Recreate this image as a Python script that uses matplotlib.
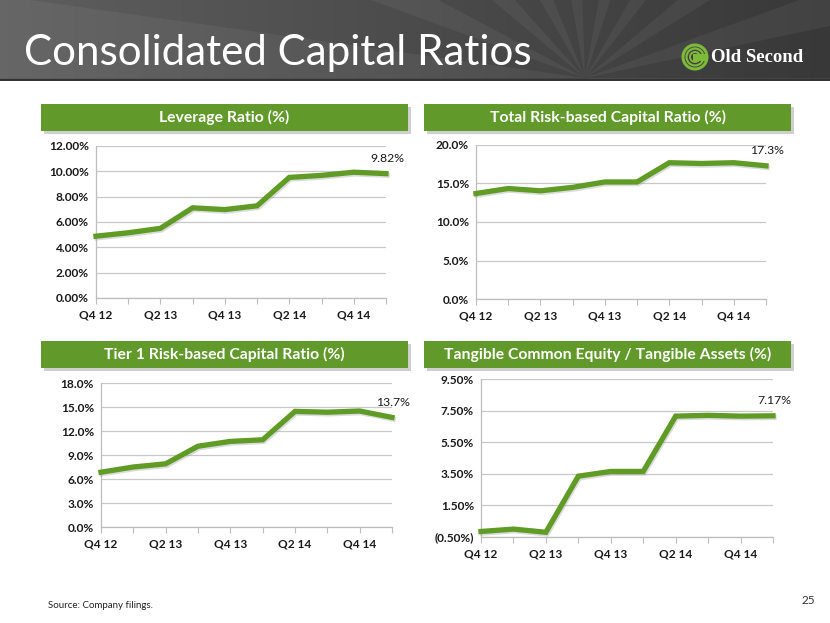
import numpy as np
import matplotlib
matplotlib.use("Agg")
import matplotlib.pyplot as plt
import matplotlib.patheffects as pe
from matplotlib.patches import Rectangle, Polygon, Circle
from matplotlib.ticker import FuncFormatter

quarters = ["Q4 12", "Q1 13", "Q2 13", "Q3 13", "Q4 13", "Q1 14", "Q2 14", "Q3 14", "Q4 14", "Q1 15"]
leverage = [4.88, 5.15, 5.50, 7.12, 6.98, 7.28, 9.52, 9.68, 9.93, 9.82]
total_rbc = [13.7, 14.35, 14.05, 14.5, 15.2, 15.2, 17.7, 17.6, 17.7, 17.3]
tier1 = [6.85, 7.5, 7.9, 10.1, 10.7, 10.9, 14.45, 14.35, 14.5, 13.7]
tce = [-0.15, 0.0, -0.2, 3.35, 3.65, 3.65, 7.15, 7.2, 7.15, 7.17]

GREEN = "#619A2A"
LINE = "#5F9B25"
FONT = "Lato"
W, H = 830, 623

fig = plt.figure(figsize=(8.3, 6.23), dpi=100)
fig.patch.set_facecolor("white")


def box(x0, y0, x1, y1):
    # pixel box -> figure fraction rect
    return [x0 / W, 1 - y1 / H, (x1 - x0) / W, (y1 - y0) / H]


# header band with sunburst
hx = fig.add_axes(box(0, 0, W, 81))
hx.set_xlim(0, W); hx.set_ylim(81, 0); hx.axis("off")
gx = np.linspace(0, 1, 300)
grad = 0.37 - 0.15 * gx
img = np.tile(grad, (40, 1))
hx.imshow(np.dstack([img] * 3), extent=[0, W, 81, 0], aspect="auto", zorder=0)
cx, cy = 585, 78
ang = np.linspace(0, 2 * np.pi, 37)
for i in range(len(ang) - 1):
    if i % 2:
        continue
    a0, a1 = ang[i], ang[i] + (ang[1] - ang[0]) * 0.8
    R = 900
    pts = [(cx, cy), (cx + R * np.cos(a0), cy + R * np.sin(a0)), (cx + R * np.cos(a1), cy + R * np.sin(a1))]
    hx.add_patch(Polygon(pts, closed=True, color="white", alpha=0.05, lw=0, zorder=1))
hx.add_patch(Rectangle((0, 79), W, 2, color="#333333", lw=0, zorder=2))
hx.text(24, 65, "Consolidated Capital Ratios", color="white", fontsize=30.3,
        family=FONT, va="baseline", ha="left", zorder=3)
# logo mark
for r, lw in [(12, 2.2), (8.5, 1.6), (5, 1.4)]:
    hx.add_patch(Circle((695, 57), r, fill=False, ec="#7DBA3A", lw=lw, zorder=3))
hx.add_patch(Rectangle((693, 54), 14, 7, color="#7DBA3A", lw=0, zorder=3))
hx.text(711, 58, "Old Second", color="white", fontsize=13.5, family="Liberation Serif",
        weight="bold", va="center", ha="left", zorder=3)

# banners
banners = [
    ("Leverage Ratio (%)", (41, 104, 408, 131)),
    ("Total Risk-based Capital Ratio (%)", (424, 104, 791, 131)),
    ("Tier 1 Risk-based Capital Ratio (%)", (41, 341, 408, 368)),
    ("Tangible Common Equity / Tangible Assets (%)", (424, 341, 791, 368)),
]
for label, (x0, y0, x1, y1) in banners:
    fig.patches.append(Rectangle((x0 / W + 3 / W, 1 - y1 / H - 3 / H), (x1 - x0) / W, (y1 - y0) / H,
                                 transform=fig.transFigure, color="#b0b0b0", alpha=0.6, lw=0))
    fig.patches.append(Rectangle((x0 / W, 1 - y1 / H), (x1 - x0) / W, (y1 - y0) / H,
                                 transform=fig.transFigure, color=GREEN, lw=0))
    fig.text((x0 + x1) / 2 / W, 1 - (y0 + y1) / 2 / H, label, color="white", fontsize=11.3,
             family=FONT, weight="bold", ha="center", va="center")


def pct2(v, _):
    return f"({abs(v):.2f}%)" if v < 0 else f"{v:.2f}%"


def pct1(v, _):
    return f"{v:.1f}%"


panels = [
    (leverage, box(96, 146, 386, 298), (0, 12), np.arange(0, 12.1, 2), pct2, "9.82%"),
    (total_rbc, box(476, 145, 766, 299), (0, 20), np.arange(0, 20.1, 5), pct1, "17.3%"),
    (tier1, box(101, 383, 392, 527), (0, 18), np.arange(0, 18.1, 3), pct1, "13.7%"),
    (tce, box(481, 379, 773, 537), (-0.5, 9.5), np.arange(-0.5, 9.6, 2), pct2, "7.17%"),
]
x = np.arange(len(quarters))
for vals, rect, ylim, yt, fmt, lab in panels:
    ax = fig.add_axes(rect)
    ax.plot(x, vals, color=LINE, lw=3.8, solid_joinstyle="miter", clip_on=False, zorder=3,
            path_effects=[pe.SimpleLineShadow(offset=(0.8, -1.2), shadow_color="#999999", alpha=0.35),
                          pe.Normal()])
    ax.set_xlim(0, len(quarters) - 1)
    ax.set_ylim(*ylim)
    ax.set_yticks(yt)
    ax.yaxis.set_major_formatter(FuncFormatter(fmt))
    ax.set_xticks(x)
    ax.set_xticklabels([q if i % 2 == 0 else "" for i, q in enumerate(quarters)])
    ax.grid(axis="y", color="#c8c8c8", lw=0.9)
    ax.set_axisbelow(True)
    for s in ["top", "right"]:
        ax.spines[s].set_visible(False)
    for s in ["left", "bottom"]:
        ax.spines[s].set_color("#bdbdbd")
        ax.spines[s].set_linewidth(0.9)
    ax.tick_params(axis="y", length=0, pad=5)
    ax.tick_params(axis="x", length=4, color="#bdbdbd", pad=4)
    for t in ax.get_xticklabels() + ax.get_yticklabels():
        t.set_fontfamily(FONT); t.set_fontweight("bold"); t.set_fontsize(8.6); t.set_color("#1a1a1a")
    ax.annotate(lab, (x[-1], vals[-1]), xytext=(1, 7), textcoords="offset points",
                ha="center", va="bottom", fontsize=8.8, family=FONT, color="#1a1a1a",
                annotation_clip=False)

fig.text(48 / W, 1 - 605 / H, "Source: Company filings.", fontsize=7, family=FONT,
         color="#222222", ha="left", va="center")
fig.text(815 / W, 1 - 601 / H, "25", fontsize=8.5, family=FONT, color="#333333",
         ha="right", va="center")

fig.savefig("out.png", dpi=100)
